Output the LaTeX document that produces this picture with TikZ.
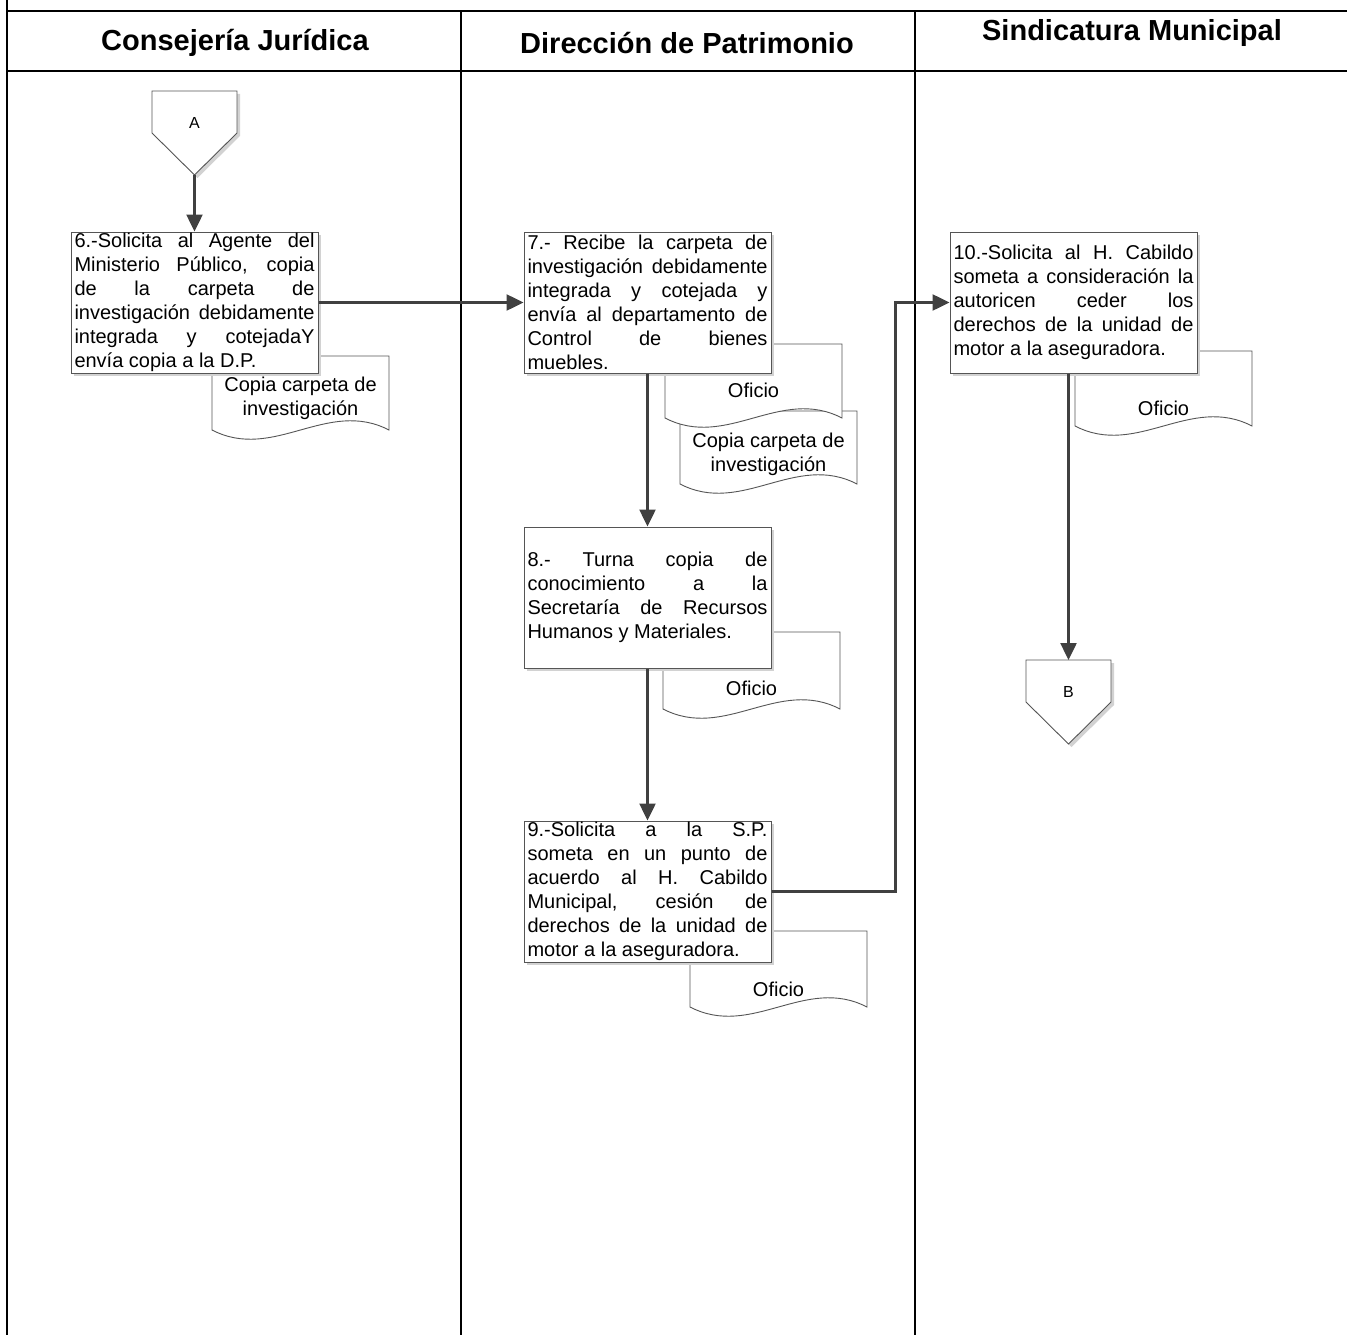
\documentclass[tikz,border=0pt]{standalone}
\usepackage{fontspec}
\setmainfont{Liberation Sans}
\usepackage{xcolor}
\usetikzlibrary{arrows.meta,positioning,calc,shadows}
\definecolor{flowDark}{RGB}{64,64,64}
\definecolor{edgeGray}{RGB}{85,85,85}
\definecolor{shadeGray}{RGB}{210,210,210}

\newcommand{\procfont}{\fontsize{20}{24}\selectfont\tolerance=9999\relax\hyphenpenalty=10000\relax}
% document symbol: left, top, right, wave line
\newcommand{\docwave}[4]{%
  \draw[docline] (#3,#2) -- (#3,#4) .. controls ({#3-0.35*(#3-#1)},{#4-32}) and ({#1+0.35*(#3-#1)},{#4+32}) .. (#1,#4) -- (#1,#2) -- cycle;}
% off-page connector: name, x, y, label
\newcommand{\offpage}[4]{%
  \fill[shadeGray, xshift=3pt, yshift=-3pt] ({#2-42.5},{#3-32}) -- ({#2+42.5},{#3-32}) -- ({#2+42.5},{#3+10}) -- (#2,{#3+52}) -- ({#2-42.5},{#3+10}) -- cycle;
  \draw[docline] ({#2-42.5},{#3-32}) -- ({#2+42.5},{#3-32}) -- ({#2+42.5},{#3+10}) -- (#2,{#3+52}) -- ({#2-42.5},{#3+10}) -- cycle;
  \coordinate (#1top) at (#2,{#3-32});
  \coordinate (#1tip) at (#2,{#3+52});
  \node[conlabel] (#1) at (#2,#3) {#4};}

\begin{document}
\begin{tikzpicture}[x=1pt, y=-1pt, >=Latex]
\tikzstyle{frame}=[line width=2.6pt, black]
\tikzstyle{lane}=[font=\fontsize{29}{34}\selectfont\bfseries, inner sep=0pt]
\tikzstyle{proc}=[draw=edgeGray, line width=1pt, fill=white, text width=240pt, inner xsep=3.5pt, inner ysep=0pt, minimum height=141pt, align=justify, font=\procfont, drop shadow={fill=shadeGray, opacity=1, shadow xshift=3pt, shadow yshift=-3pt}]
\tikzstyle{docline}=[draw=edgeGray, line width=0.9pt, fill=white]
\tikzstyle{doctext}=[align=center, inner sep=0pt, font=\fontsize{20}{24}\selectfont]
\tikzstyle{conlabel}=[inner sep=0pt, font=\fontsize{16}{19}\selectfont]
\tikzstyle{flow}=[draw=flowDark, line width=2.5pt, -{Triangle[length=17pt,width=16pt]}]

\useasboundingbox (0,0) rectangle (1347,1335);

\draw[frame] (7,0) -- (7,1335);
\draw[frame] (7,11) -- (1347,11);
\draw[frame] (7,71) -- (1347,71);
\draw[frame] (461,11) -- (461,1335);
\draw[frame] (915,11) -- (915,1335);

\node[lane] (cj) at (235,43) {Consejería Jurídica};
\node[lane] (dp) at (687,43) {Dirección de Patrimonio};
\node[lane] (sm) at (1132,33) {Sindicatura Municipal};

\docwave{212}{356}{389}{430}
\node[doctext] (d6) at (300.5,398) {Copia carpeta de\\investigación};
\docwave{680}{411}{857}{484}
\node[doctext] (d7b) at (768.5,454) {Copia carpeta de\\investigación};
\docwave{665}{344}{842}{418}
\node[doctext] (d7a) at (753.5,390) {Oficio};
\docwave{663}{632}{840}{709}
\node[doctext] (d8) at (751.5,688) {Oficio};
\docwave{690}{931}{867}{1007}
\node[doctext] (d9) at (778.5,989) {Oficio};
\docwave{1075}{351}{1252}{426}
\node[doctext] (d10) at (1163.5,408) {Oficio};

\node[proc] (p6) at (194.5,302.5) {6.-Solicita al Agente del\linebreak Ministerio Público, copia\linebreak de la carpeta de\linebreak investigación debidamente\linebreak integrada y cotejadaY\linebreak envía copia a la D.P.};
\node[proc, right=205pt of p6] (p7) {7.- Recibe la carpeta de\linebreak investigación debidamente\linebreak integrada y cotejada y\linebreak envía al departamento de\linebreak Control de bienes\linebreak muebles.};
\node[proc, below=153pt of p7] (p8) {8.- Turna copia de\linebreak conocimiento a la\linebreak Secretaría de Recursos\linebreak Humanos y Materiales.};
\node[proc, below=152pt of p8] (p9) {9.-Solicita a la S.P.\linebreak someta en un punto de\linebreak acuerdo al H. Cabildo\linebreak Municipal, cesión de\linebreak derechos de la unidad de\linebreak motor a la aseguradora.};
\node[proc, right=178pt of p7] (p10) {10.-Solicita al H. Cabildo\linebreak someta a consideración la\linebreak autoricen ceder los\linebreak derechos de la unidad de\linebreak motor a la aseguradora.};

\offpage{conA}{194.5}{123}{A}
\offpage{conB}{1068.5}{692}{B}

\draw[flow] (conAtip) -- (p6.north);
\draw[flow] (p6.east) -- (p7.west);
\draw[flow] (p7.south) -- (p8.north);
\draw[flow] (p8.south) -- (p9.north);
\draw[flow] (p9.east) -- ++(124,0) |- (p10.west);
\draw[flow] (p10.south -| conBtop) -- (conBtop);
\end{tikzpicture}
\end{document}
